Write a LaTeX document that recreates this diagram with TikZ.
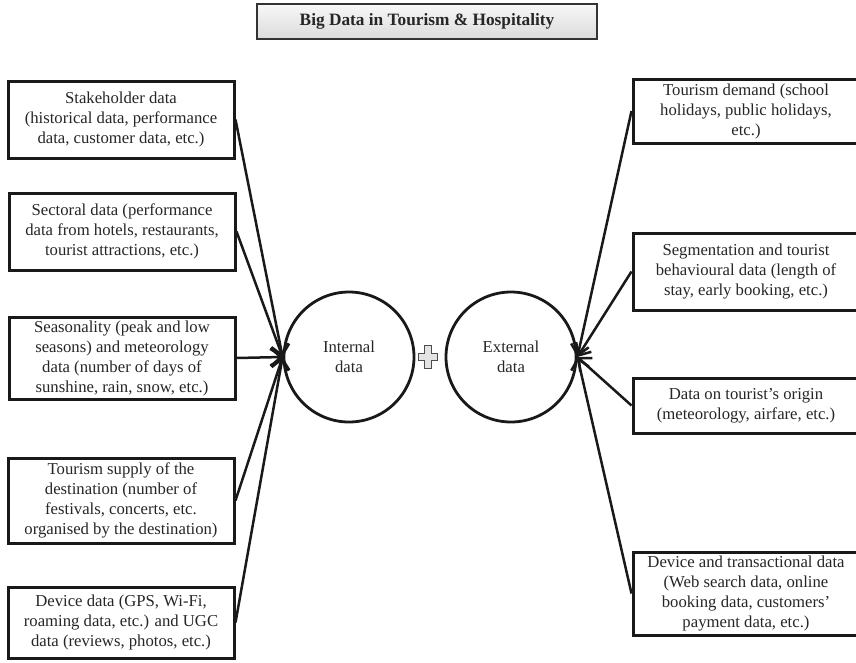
\documentclass[tikz,border=0pt]{standalone}
\usepackage{fontspec}
\setmainfont{Liberation Serif}
\usetikzlibrary{arrows.meta}
\begin{document}
\begin{tikzpicture}[x=1pt,y=-1pt,
  txt/.style={font=\fontsize{16.7}{20}\selectfont, text=black!85, align=center},
  databox/.style={txt, draw=black!90, line width=3pt, minimum width=226pt, inner sep=0pt},
  hub/.style={txt, draw=black!90, line width=2.8pt, circle, minimum size=130pt, inner sep=0pt},
  feed/.style={draw=black!90, line width=2.5pt, -{Straight Barb[length=10pt,width=18pt,line width=2.5pt]}},
  titlebox/.style={font=\bfseries\fontsize{17.3}{20}\selectfont, text=black!85, draw=black!80, line width=1.6pt,
    top color=gray!6, bottom color=gray!28, minimum width=340pt, minimum height=35pt, inner sep=0pt},
  plussign/.style={fill=gray!22, draw=black!70, line width=0.9pt}
]
\useasboundingbox (0,0) rectangle (856,662);

% heading
\node[titlebox] (title) at (427,21.5) {Big Data in Tourism \& Hospitality};

% the two hubs
\node[hub] (int) at (349,357) {Internal\\data};
\node[hub] (ext) at (511,357) {External\\data};

% plus sign between the hubs
\draw[plussign] (424,345) -- (431,345) -- (431,353) -- (437,353) -- (437,360) -- (431,360)
  -- (431,368) -- (424,368) -- (424,360) -- (418,360) -- (418,353) -- (424,353) -- cycle;

% internal sources
\node[databox, minimum height=77pt] (s1) at (121,119.5)
  {Stakeholder data\\(historical data, performance\\data, customer data, etc.)};
\node[databox, minimum height=77pt] (s2) at (122,231.5)
  {Sectoral data (performance\\data from hotels, restaurants,\\tourist attractions, etc.)};
\node[databox, minimum height=82pt] (s3) at (122,358)
  {Seasonality (peak and low\\seasons) and meteorology\\data (number of days of\\sunshine, rain, snow, etc.)};
\node[databox, minimum height=85pt] (s4) at (121,500.5)
  {Tourism supply of the\\destination (number of\\festivals, concerts, etc.\\organised by the destination)};
\node[databox, minimum height=71pt] (s5) at (121,622.5)
  {Device data (GPS, Wi-Fi,\\roaming data, etc.) and UGC\\data (reviews, photos, etc.)};

% external sources
\node[databox, minimum height=64pt] (e1) at (746,111)
  {Tourism demand (school\\holidays, public holidays,\\etc.)};
\node[databox, minimum height=77pt] (e2) at (746,271.5)
  {Segmentation and tourist\\behavioural data (length of\\stay, early booking, etc.)};
\node[databox, minimum height=55pt] (e3) at (746,405.5)
  {Data on tourist’s origin\\(meteorology, airfare, etc.)};
\node[databox, minimum height=83pt] (e4) at (746,593.5)
  {Device and transactional data\\(Web search data, online\\booking data, customers’\\payment data, etc.)};

% connectors
\foreach \s in {s1,s2,s3,s4,s5} \draw[feed] (\s.east) -- (int.west);
\foreach \s in {e1,e2,e3,e4} \draw[feed] (\s.west) -- (ext.east);
\end{tikzpicture}
\end{document}
